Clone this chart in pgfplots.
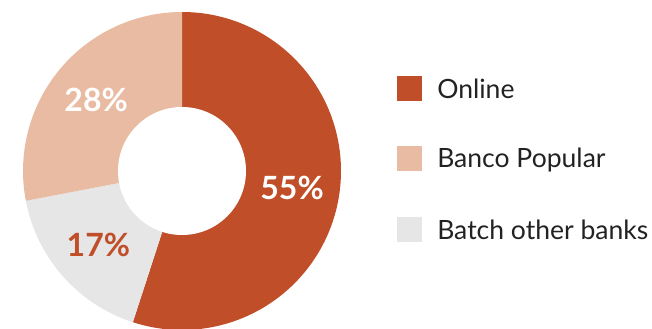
\documentclass[border=0pt]{standalone}
\usepackage{pgfplots}
\pgfplotsset{compat=1.18}
\usepackage{pgfplotstable}
\usepackage{fontspec}
\setmainfont{Lato}
\definecolor{online}{HTML}{C04E28}
\definecolor{banco}{HTML}{E8BBA2}
\definecolor{batch}{HTML}{E6E6E6}
\definecolor{legtext}{HTML}{222222}

% slices in clockwise order starting at 12 o'clock
\pgfplotstableread[col sep=comma]{
label,value
Online,55
Batch other banks,17
Banco Popular,28
}\slices
\pgfplotstablegetelem{0}{value}\of\slices \edef\vA{\pgfplotsretval}
\pgfplotstablegetelem{1}{value}\of\slices \edef\vB{\pgfplotsretval}
\pgfplotstablegetelem{2}{value}\of\slices \edef\vC{\pgfplotsretval}
\pgfmathsetmacro\aS{90}
\pgfmathsetmacro\aA{\aS-3.6*\vA}
\pgfmathsetmacro\aB{\aA-3.6*\vB}
\pgfmathsetmacro\aC{\aB-3.6*\vC}
\pgfmathsetmacro\mA{(\aS+\aA)/2}
\pgfmathsetmacro\mB{(\aA+\aB)/2}
\pgfmathsetmacro\mC{(\aB+\aC)/2}
\def\Rout{119.25pt}
\def\Rin{48pt}
\def\Rmid{83.6pt}

\begin{document}
\begin{tikzpicture}
\begin{axis}[
  x=0.75pt, y=0.75pt,
  xmin=0, xmax=652, ymin=0, ymax=328,
  hide axis, clip=true,
]
\fill[online] (182,157) -- ++(\aS:\Rout) arc[start angle=\aS, end angle=\aA, radius=\Rout] -- cycle;
\fill[batch] (182,157) -- ++(\aA:\Rout) arc[start angle=\aA, end angle=\aB, radius=\Rout] -- cycle;
\fill[banco] (182,157) -- ++(\aB:\Rout) arc[start angle=\aB, end angle=\aC, radius=\Rout] -- cycle;
\fill[white] (182,157) circle[radius=\Rin];

\path (182,157) ++(\mA:\Rmid) node[white, font=\bfseries\fontsize{24}{28}\selectfont] {\vA\%};
\path (182,157) ++(\mB:\Rmid) node[online, font=\bfseries\fontsize{24}{28}\selectfont] {\vB\%};
\path (182,157) ++(\mC:\Rmid) node[white, font=\bfseries\fontsize{24}{28}\selectfont] {\vC\%};

% legend
\fill[online] (397,227) rectangle (422,252);
\fill[banco]  (397,157) rectangle (422,182);
\fill[batch]  (397,86)  rectangle (422,111);
\node[anchor=base west, inner sep=0pt, legtext, font=\fontsize{19.9}{24}\selectfont] at (437,229) {Online};
\node[anchor=base west, inner sep=0pt, legtext, font=\fontsize{19.9}{24}\selectfont] at (437,160) {Banco Popular};
\node[anchor=base west, inner sep=0pt, legtext, font=\fontsize{19.9}{24}\selectfont] at (437,88) {Batch other banks};
\end{axis}
\pgfresetboundingbox
\useasboundingbox (current axis.south west) rectangle (current axis.north east);
\end{tikzpicture}
\end{document}
